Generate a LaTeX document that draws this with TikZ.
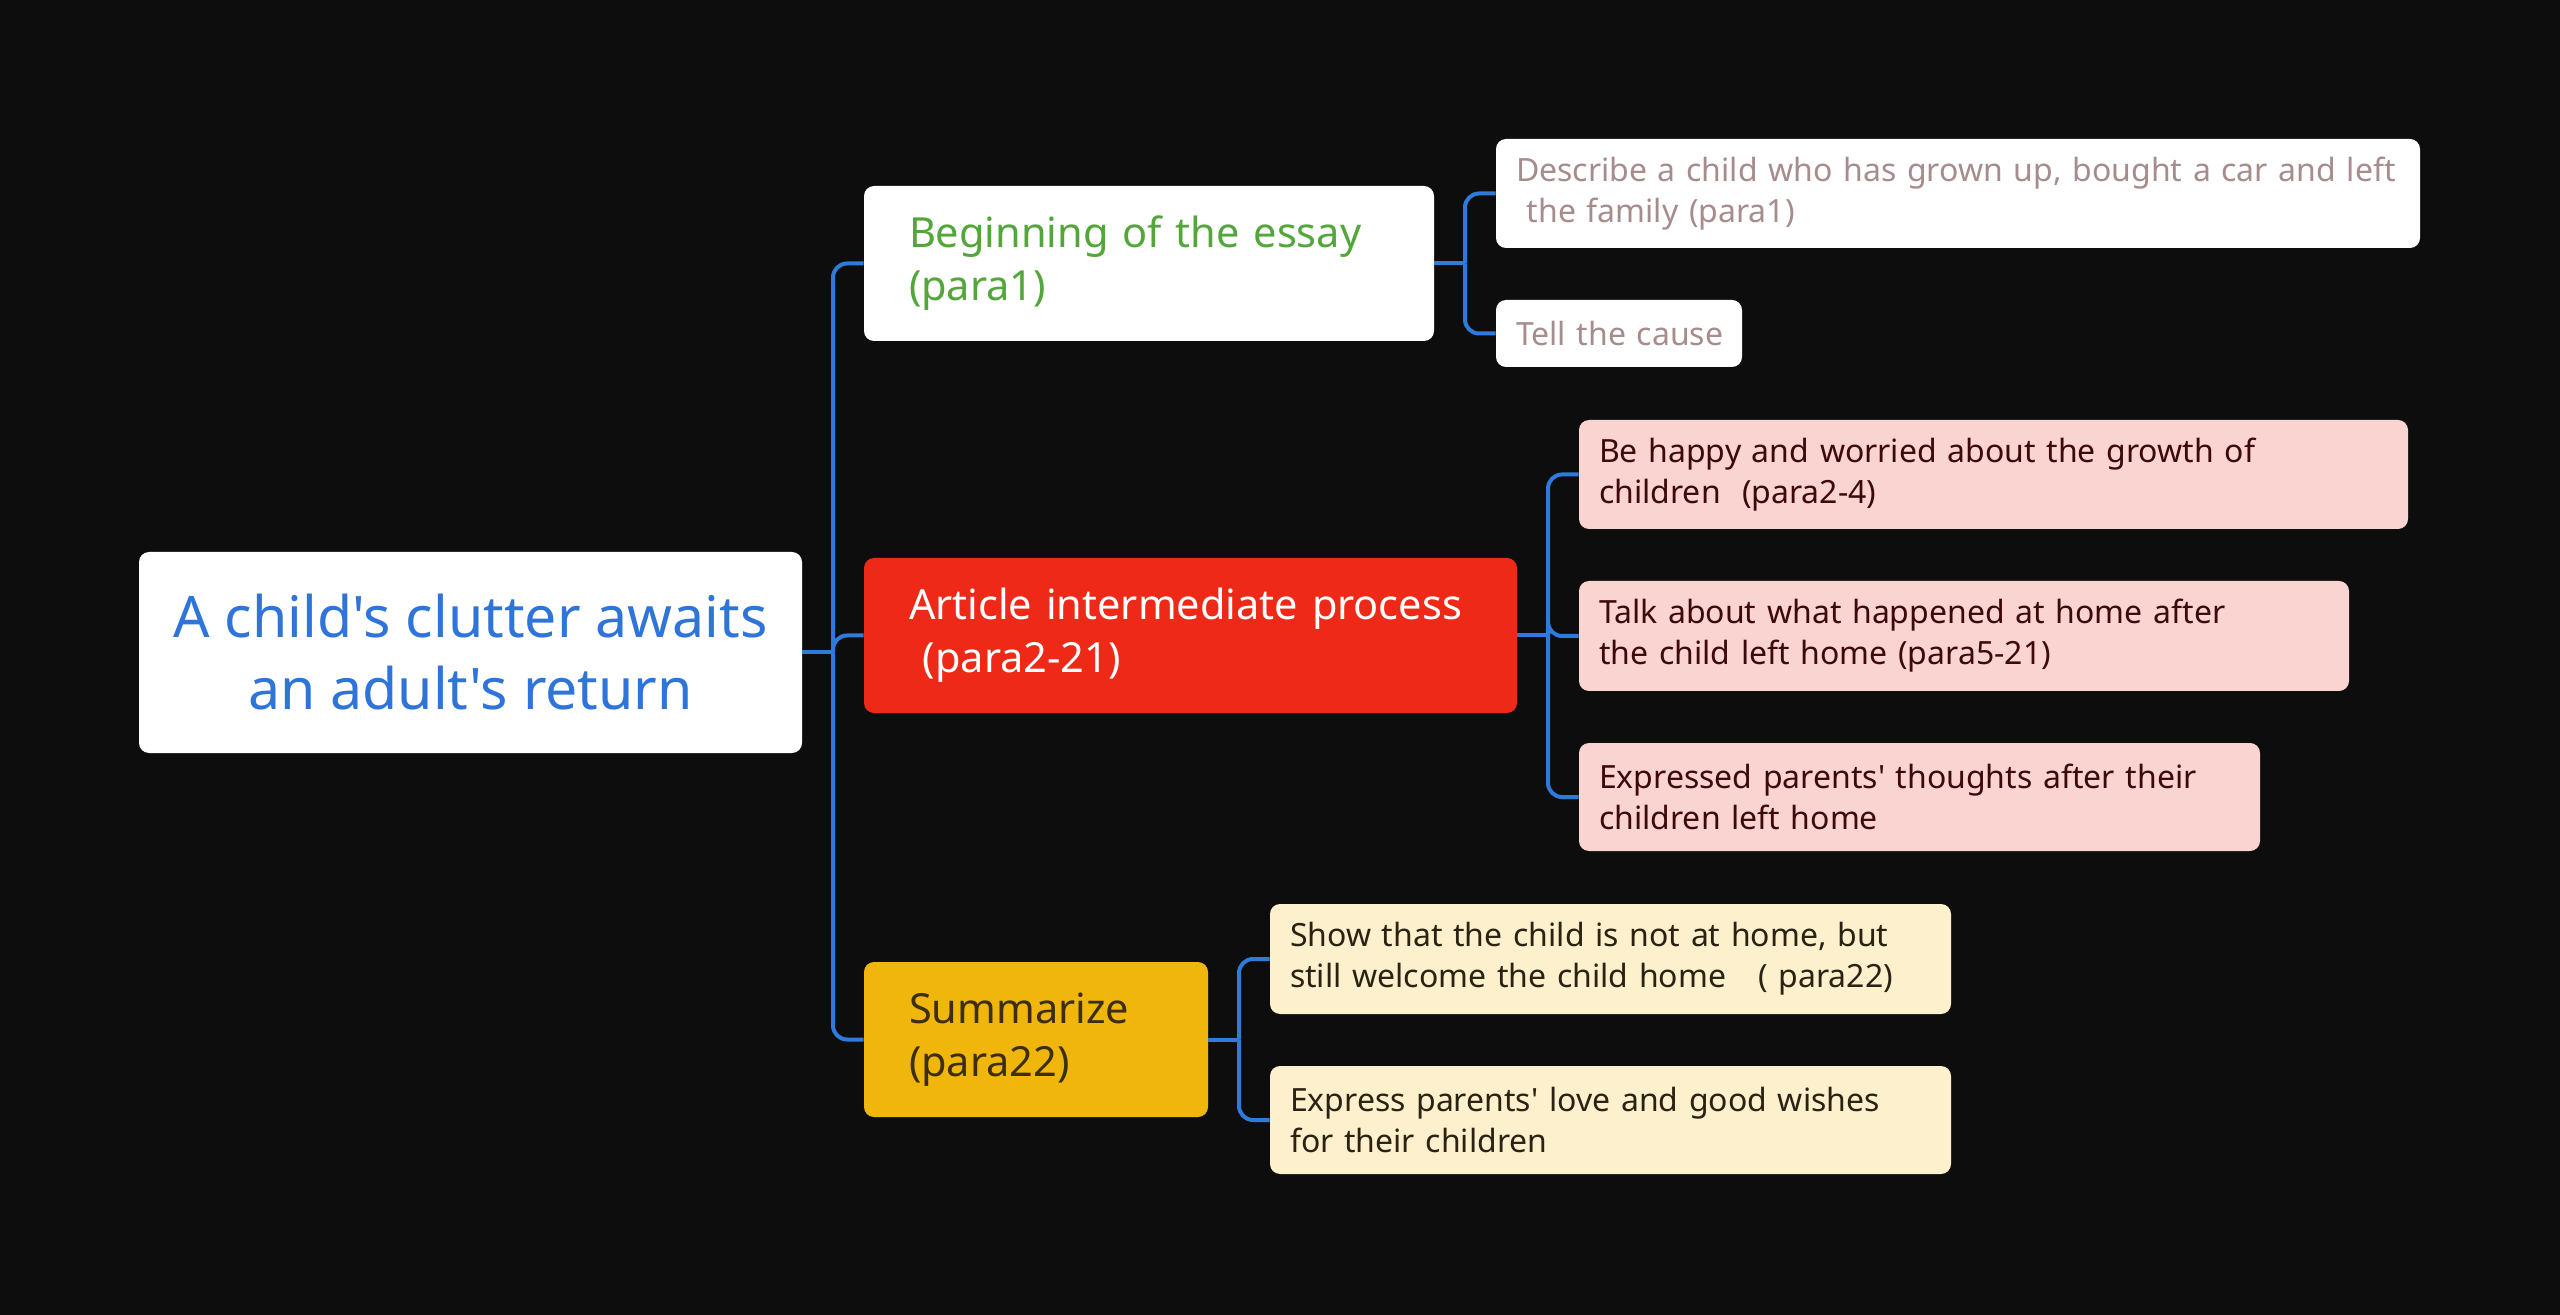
\documentclass[tikz,border=0pt]{standalone}
\usepackage{fontspec}
\setmainfont{Noto Sans}[Ligatures=TeXOff]
\definecolor{bg}{HTML}{0D0D0D}
\definecolor{conn}{HTML}{2E7BDB}
\definecolor{roottxt}{HTML}{2F74D8}
\definecolor{greentxt}{HTML}{52A63A}
\definecolor{redbox}{HTML}{EE2918}
\definecolor{amber}{HTML}{F0B60C}
\definecolor{ambertxt}{HTML}{3B2F10}
\definecolor{mauve}{HTML}{A68C8C}
\definecolor{pinkbox}{HTML}{FAD4D1}
\definecolor{pinktxt}{HTML}{3C0A0A}
\definecolor{creambox}{HTML}{FDF0CD}
\definecolor{creamtxt}{HTML}{2A2212}
\tikzset{
  box/.style={rounded corners=5pt, inner ysep=0pt, align=left},
  rootbox/.style={box, fill=white, text=roottxt, align=center, minimum width=331.5pt, minimum height=100.5pt,
     font=\fontsize{28.6}{36}\selectfont},
  branch/.style={box, inner xsep=22.5pt, minimum height=77.5pt, font=\fontsize{20.75}{26.5}\selectfont},
  leaf/.style={box, inner xsep=10pt, font=\fontsize{16}{20.5}\selectfont},
  conn/.style={draw=conn, line width=2pt, rounded corners=7pt},
}
\begin{document}
\begin{tikzpicture}[x=0.5pt,y=-0.5pt]
\fill[bg] (0,0) rectangle (2560,1315);
\useasboundingbox (0,0) rectangle (2560,1315);

\node[rootbox] (root) at (470.5,652.5) {A child's clutter awaits\\an adult's return};

\node[branch, fill=white, text=greentxt, text width=240pt] (b1) at (1149,263.5) {Beginning of the essay\\(para1)};
\node[branch, fill=redbox, text=white, text width=281.5pt] (b2) at (1190.5,635.5) {Article intermediate process\\\ (para2-21)};
\node[branch, fill=amber, text=ambertxt, text width=127pt] (b3) at (1036,1039.5) {Summarize\\(para22)};

\node[leaf, fill=white, text=mauve, text width=442pt, minimum height=54.5pt] (d1) at (1958,193.5) {Describe a child who has grown up, bought a car and left\\\ the family (para1)};
\node[leaf, fill=white, text=mauve, text width=103pt, minimum height=33.5pt] (d2) at (1619,333.5) {\mbox{Tell the cause}};

\node[leaf, fill=pinkbox, text=pinktxt, text width=394.5pt, minimum height=54.5pt] (e1) at (1993.5,474.5) {Be happy and worried about the growth of\\children\ \ (para2-4)};
\node[leaf, fill=pinkbox, text=pinktxt, text width=365pt, minimum height=55pt] (e2) at (1964,636) {Talk about what happened at home after\\the child left home (para5-21)};
\node[leaf, fill=pinkbox, text=pinktxt, text width=320.5pt, minimum height=54pt] (e3) at (1919.5,797) {Expressed parents' thoughts after their\\children left home};

\node[leaf, fill=creambox, text=creamtxt, text width=320.5pt, minimum height=55pt] (f1) at (1610.5,959) {Show that the child is not at home, but\\still welcome the child home\ \ \ ( para22)};
\node[leaf, fill=creambox, text=creamtxt, text width=320.5pt, minimum height=54pt] (f2) at (1610.5,1120) {Express parents' love and good wishes\\for their children};

\coordinate (s0) at (833,652.5);
\coordinate (s1) at (1465,263.5);
\coordinate (s2) at (1548,635.5);
\coordinate (s3) at (1239,1039.5);

\draw[conn] (root.east) -- (s0);
\draw[conn] (s0) |- (b1.west);
\draw[conn] (s0) |- (b2.west);
\draw[conn] (s0) |- (b3.west);

\draw[conn] (b1.east) -- (s1);
\draw[conn] (s1) |- (d1.west);
\draw[conn] (s1) |- (d2.west);

\draw[conn] (b2.east) -- (s2);
\draw[conn] (s2) |- (e1.west);
\draw[conn] (s2) |- (e2.west);
\draw[conn] (s2) |- (e3.west);

\draw[conn] (b3.east) -- (s3);
\draw[conn] (s3) |- (f1.west);
\draw[conn] (s3) |- (f2.west);
\end{tikzpicture}
\end{document}
